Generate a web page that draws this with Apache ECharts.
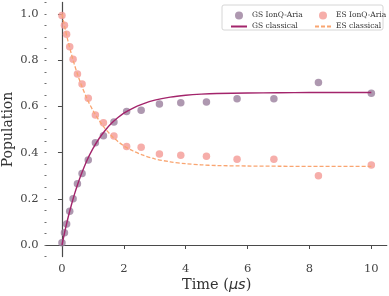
<!DOCTYPE html>
<html><head><meta charset="utf-8">
<script src="https://cdn.jsdelivr.net/npm/echarts@6/dist/echarts.min.js"></script>
<style>html,body{margin:0;padding:0;background:#fff}#c{width:389px;height:296px}</style>
</head><body><div id="c"></div>
<script>
// Measured data
const tPoints = [0, 0.08, 0.15, 0.25, 0.36, 0.5, 0.65, 0.85, 1.08, 1.34, 1.68, 2.09, 2.56, 3.15, 3.84, 4.67, 5.66, 6.85, 8.29, 10];
const gsIonQ = [0.010, 0.053, 0.091, 0.146, 0.200, 0.265, 0.309, 0.368, 0.443, 0.473, 0.532, 0.578, 0.583, 0.610, 0.616, 0.619, 0.633, 0.633, 0.704, 0.657];
const esIonQ = [0.993, 0.951, 0.912, 0.858, 0.804, 0.740, 0.697, 0.635, 0.563, 0.529, 0.472, 0.426, 0.423, 0.394, 0.388, 0.384, 0.371, 0.371, 0.300, 0.346];
const tClassical = [0, 0.1, 0.2, 0.3, 0.4, 0.5, 0.6, 0.8, 1.0, 1.2, 1.4, 1.6, 1.8, 2.0, 2.3, 2.6, 3.0, 3.5, 4.0, 4.5, 5, 6, 7, 8, 9, 10];
const gsClassical = [0, 0.063, 0.120, 0.171, 0.218, 0.260, 0.298, 0.364, 0.417, 0.461, 0.497, 0.527, 0.551, 0.571, 0.593, 0.610, 0.627, 0.640, 0.648, 0.653, 0.656, 0.658, 0.659, 0.660, 0.660, 0.660];
const esClassical = [1.0, 0.937, 0.880, 0.829, 0.782, 0.740, 0.702, 0.636, 0.583, 0.539, 0.503, 0.473, 0.449, 0.429, 0.407, 0.390, 0.373, 0.360, 0.352, 0.347, 0.344, 0.342, 0.341, 0.340, 0.340, 0.340];
const xTicks = [0, 2, 4, 6, 8, 10];
const yTicks = [0, 0.2, 0.4, 0.6, 0.8, 1.0];

const names = ['GS IonQ-Aria', 'ES IonQ-Aria', 'GS classical', 'ES classical'];
const colGS = '#9a7e9c', colES = '#f49a95', colGSL = '#a3246b', colESL = '#f9a571';
const zip = (a, b) => a.map((v, i) => [v, b[i]]);
const serif = 'DejaVu Serif';
const axisCol = '#4a4a4a';

const chart = echarts.init(document.getElementById('c'), null, {renderer: 'canvas'});
chart.setOption({
  animation: false,
  backgroundColor: '#fff',
  grid: {left: 46.5, right: 2.2, top: 2.45, bottom: 39.45, outerBoundsMode: 'none', containLabel: false},
  graphic: [{
    type: 'rect', z: 0,
    shape: {x: 222, y: 5, width: 161, height: 25, r: 2},
    style: {fill: 'rgba(255,255,255,0.85)', stroke: '#d6d6d6', lineWidth: 1}
  }],
  legend: [
    {data: [names[0], names[2]], orient: 'vertical', left: 225, top: 6.5, itemWidth: 16, itemHeight: 8, itemGap: 3,
     textStyle: {fontFamily: serif, fontSize: 7.5, color: '#333', lineHeight: 8}, z: 5},
    {data: [names[1], names[3]], orient: 'vertical', left: 309, top: 6.5, itemWidth: 16, itemHeight: 8, itemGap: 3,
     textStyle: {fontFamily: serif, fontSize: 7.5, color: '#333', lineHeight: 8}, z: 5}
  ],
  xAxis: {
    type: 'value', min: -0.5, max: 10.5,
    splitLine: {show: false},
    axisLine: {lineStyle: {color: axisCol, width: 1.2}},
    axisTick: {customValues: xTicks, length: 4, lineStyle: {color: axisCol, width: 1}},
    axisLabel: {customValues: xTicks, margin: 6, fontFamily: serif, fontSize: 11.5, color: '#444'},
    name: 'Time ({i|μs})', nameLocation: 'middle', nameGap: 21.5, nameMoveOverlap: false,
    nameTextStyle: {fontFamily: serif, fontSize: 14.5, color: '#333',
      rich: {i: {fontFamily: 'DejaVu Sans', fontStyle: 'italic', fontSize: 14.5, color: '#333'}}}
  },
  yAxis: [{
    type: 'value', min: -0.05, max: 1.05,
    splitLine: {show: false},
    axisLine: {lineStyle: {color: axisCol, width: 1.2}},
    axisTick: {customValues: yTicks, length: 4, lineStyle: {color: axisCol, width: 1}},
    axisLabel: {customValues: yTicks, margin: 8, fontFamily: serif, fontSize: 11.5, color: '#444',
      formatter: v => v.toFixed(1)},
    name: 'Population', nameLocation: 'middle', nameGap: 31, nameMoveOverlap: false,
    nameTextStyle: {fontFamily: serif, fontSize: 14, color: '#333'}
  }, {
    type: 'value', min: -0.05, max: 1.05, interval: 0.05, position: 'left',
    splitLine: {show: false}, axisLine: {show: false},
    axisTick: {length: 2, lineStyle: {color: axisCol, width: 0.8}},
    axisLabel: {show: false}
  }],
  series: [
    {name: names[0], type: 'scatter', data: zip(tPoints, gsIonQ), symbolSize: 7.5,
     itemStyle: {color: colGS}, z: 2},
    {name: names[1], type: 'scatter', data: zip(tPoints, esIonQ), symbolSize: 7.5,
     itemStyle: {color: colES}, z: 2},
    {name: names[2], type: 'line', data: zip(tClassical, gsClassical), smooth: 0.3, symbol: 'none',
     lineStyle: {color: colGSL, width: 1.4}, itemStyle: {color: colGSL, opacity: 0}, z: 3},
    {name: names[3], type: 'line', data: zip(tClassical, esClassical), smooth: 0.3, symbol: 'none',
     lineStyle: {color: colESL, width: 1.3, type: [4, 2]}, itemStyle: {color: colESL, opacity: 0}, z: 3}
  ]
});
</script></body></html>
